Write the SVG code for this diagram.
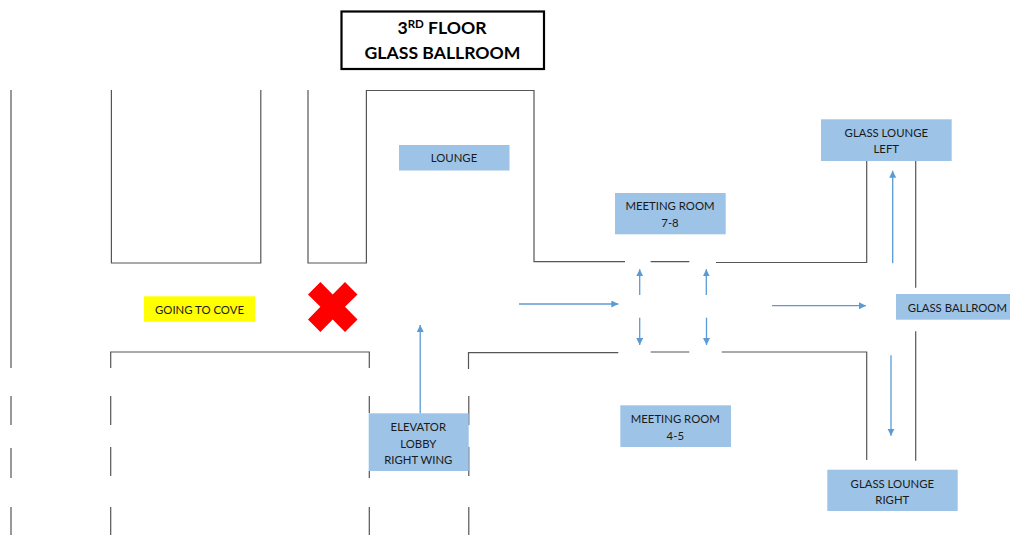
<svg xmlns="http://www.w3.org/2000/svg" width="1010" height="535" viewBox="0 0 1010 535">
<style>
text{font-family:"Lato","Open Sans","Liberation Sans",sans-serif;font-size:11.350px;fill:#1a1a1a;text-anchor:middle}
.room{fill:#9dc3e6}
.wall{fill:none;stroke:#555;stroke-width:1.2}
.arr{fill:none;stroke:#5b9bd5;stroke-width:1.300;marker-end:url(#ah)}
.title{font-size:17.600px;font-weight:700;fill:#000}
</style>
<defs>
<marker id="ah" markerUnits="userSpaceOnUse" markerWidth="8" markerHeight="8" refX="7" refY="3.500" orient="auto">
<path d="M0 0L7 3.500L0 7Z" fill="#5b9bd5"/>
</marker>
</defs>
<rect width="1010" height="535" fill="#fff"/>
<g id="walls" class="wall">
<path d="M11 90V368M11 396V425M11 448V478M11 507V535"/>
<path d="M111.400 90V263H260.800V90"/>
<path d="M308 90V263H366.400V90.500H534V261.700H625M650.700 261.700H689.300M716 262.500H866.700V161"/>
<path d="M915.700 161V287.700M915.700 331.300V460.700"/>
<path d="M110.700 368V352H369.300V368M110.700 396V425M110.700 447V476M110.700 507V535"/>
<path d="M369.300 396V413M369.300 471V478M369.300 507V535"/>
<path d="M468.500 369V352.700H618.300M650.700 352H689.300M721.700 352H866.700V460"/>
<path d="M468.800 396V425M468.800 447V476M468.800 507V535"/>
</g>
<g id="title">
<rect x="341.500" y="11.500" width="202.500" height="57.500" fill="#fff" stroke="#000" stroke-width="2.200"/>
<text class="title" x="442" y="33.500">3<tspan font-size="11.500" dy="-6">RD</tspan><tspan dy="6"> FLOOR</tspan></text>
<text class="title" x="442.500" y="59">GLASS BALLROOM</text>
</g>
<g id="lounge"><rect class="room" x="399" y="145" width="110.500" height="25.500"/><text x="454" y="162.300">LOUNGE</text></g>
<g id="going-to-cove"><rect x="144" y="296.300" width="111" height="25.500" fill="#ff0"/><text x="199.500" y="314">GOING TO COVE</text></g>
<g id="closed-mark"><polygon points="320.400,282 332.700,294.400 345,282 357.500,294.400 345,306.700 357.500,319.500 345,332 332.700,319.500 320.400,332 308,319.500 320.400,306.700 308,294.400" fill="#f00"/></g>
<g id="elevator-lobby"><rect class="room" x="368.700" y="413.300" width="100" height="57.700"/><text x="418.300" y="430.700">ELEVATOR</text><text x="418.300" y="447.700">LOBBY</text><text x="418.300" y="463.700">RIGHT WING</text></g>
<g id="meeting-7-8"><rect class="room" x="615" y="193" width="110.700" height="41.300"/><text x="670" y="210.300">MEETING ROOM</text><text x="670" y="227.300">7-8</text></g>
<g id="meeting-4-5"><rect class="room" x="620.300" y="405.300" width="110.700" height="41.700"/><text x="675.300" y="422.700">MEETING ROOM</text><text x="675.300" y="439.700">4-5</text></g>
<g id="glass-lounge-left"><rect class="room" x="821" y="119.300" width="130.700" height="41.700"/><text x="886.300" y="136.700">GLASS LOUNGE</text><text x="886.300" y="152.700">LEFT</text></g>
<g id="glass-lounge-right"><rect class="room" x="827.300" y="469.700" width="130.400" height="41.300"/><text x="892.300" y="487.700">GLASS LOUNGE</text><text x="892.300" y="503.700">RIGHT</text></g>
<g id="glass-ballroom"><rect class="room" x="896" y="294" width="114" height="25.700"/><text x="957.300" y="312.300">GLASS BALLROOM</text></g>
<g id="connectors">
<path class="arr" d="M420.200 413.300V325"/>
<path class="arr" d="M519 304H618.300"/>
<path class="arr" d="M772 305.700H866"/>
<path class="arr" d="M639.700 295V269.300"/>
<path class="arr" d="M706.300 295V269.300"/>
<path class="arr" d="M639.700 317.700V345"/>
<path class="arr" d="M706.500 317.700V345"/>
<path class="arr" d="M892.700 263.300V170.700"/>
<path class="arr" d="M891 355.300V435.700"/>
</g>
</svg>
